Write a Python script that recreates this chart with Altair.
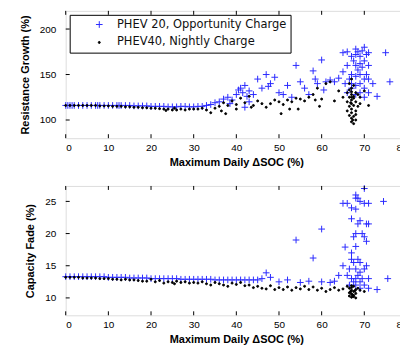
import altair as alt
import pandas as pd

# ---------------- data ----------------
SERIES = ["PHEV 20, Opportunity Charge", "PHEV40, Nightly Charge"]

# Top panel: Resistance growth (%)
rg_blue_x = [0, 0.5, 1, 1.5, 2, 3, 4, 5, 6, 7, 7.5, 8, 9, 10, 11, 12, 12.5, 13, 14, 15, 16, 17, 18, 19, 20,
             21, 22, 23, 24, 25, 26, 27, 28, 29, 30, 31, 32, 33, 34, 35, 36, 37, 38, 38.5, 39, 40, 40.5,
             41, 41.5, 42, 42.5, 43, 43, 42, 44, 45, 46, 47, 47.5, 48, 49, 50, 51, 52, 53, 54, 55, 56, 57,
             58, 58.5, 59, 60, 60.5, 61, 62, 63, 64, 65, 65, 65.5, 66, 66, 66, 66.5, 67, 67, 67, 67, 67.5,
             68, 68, 68, 68, 68, 68, 68.5, 68.5, 69, 69, 69, 69, 69, 69.5, 69.5, 70, 70, 70, 70, 70, 70.5,
             70.5, 71, 71, 71, 71, 72, 73, 75, 76]
rg_blue_y = [116, 116, 116, 116, 116, 116, 116, 116, 116, 116, 116, 116, 116, 116, 116, 116, 116, 116, 116,
             116, 115.5, 115.5, 115.5, 115.5, 115, 115, 115, 115, 114.5, 114.5, 114.5, 115, 115, 114.5, 114.5,
             115, 115, 116, 117, 119, 120, 123, 125, 118, 122, 128, 133, 135, 130, 138, 126, 132, 120, 114,
             128, 145, 135, 150, 137, 140, 147, 130, 128, 138, 125, 160, 142, 135, 128, 154, 145, 140, 166,
             133, 142, 144, 142, 146, 174, 153, 140, 175, 160, 130, 145, 170, 150, 140, 135, 165, 178, 172,
             160, 148, 138, 128, 175, 155, 170, 162, 150, 140, 130, 176, 158, 180, 165, 145, 135, 125, 172,
             150, 174, 160, 145, 130, 140, 126, 174, 142]

rg_black_x = [0, 1, 2, 3, 4, 5, 6, 7, 8, 9, 10, 11, 12, 13, 14, 15, 16, 17, 18, 19, 20, 21, 22, 23, 23.5,
              24, 25, 25.5, 26, 27, 28, 29, 30, 31, 32, 33, 34, 35, 36, 36.5, 37, 37.5, 38, 39, 40, 40, 41,
              42, 43, 43.5, 44, 45, 46, 47, 48, 49, 50, 50.5, 51, 52, 52.5, 53, 54, 54.5, 55, 56, 57, 58,
              58.5, 59, 59.5, 60, 61, 62, 63, 64, 65, 66, 66, 66, 66.5, 66.5, 66.5, 66.5, 67, 67, 67, 67,
              67, 67, 67, 67, 67, 67.5, 67.5, 67.5, 67.5, 67.5, 68, 68, 68, 68, 68.5, 68.5, 69, 69, 70, 71,
              66.5, 67, 67.5, 68, 67, 66.8, 67.3]
rg_black_y = [116, 116, 116, 116, 116, 116, 116, 116, 115.5, 115.5, 115.5, 115, 115, 115, 114.5, 114.5,
              114, 114, 113.5, 113.5, 113, 113, 112.5, 112, 110.5, 112, 111, 113, 111, 112, 111, 112, 112,
              112, 113, 111, 108, 113, 115, 110, 119, 107, 116, 121, 117, 112, 124, 119, 126, 114, 116, 121,
              118, 114, 118, 122, 120, 107, 117, 122, 112, 120, 124, 112, 123, 121, 125, 128, 122, 135, 115,
              123, 140, 142, 121, 132, 125, 130, 120, 110, 140, 125, 115, 105, 145, 135, 128, 122, 118, 112,
              108, 102, 98, 138, 126, 116, 104, 96, 130, 120, 110, 100, 128, 115, 125, 118, 132, 116,
              133, 131, 124, 106, 125, 119, 100]

# Bottom panel: Capacity fade (%)
cf_blue_x = [0, 1, 2, 3, 4, 5, 6, 7, 8, 9, 10, 11, 12, 13, 14, 15, 16, 17, 18, 19, 20, 21, 22, 23, 24, 25,
             26, 27, 28, 29, 30, 31, 32, 33, 34, 35, 36, 37, 38, 39, 40, 41, 42, 43, 44, 45, 46, 47, 48, 50,
             52, 54, 55, 57, 58, 60, 60, 62, 63, 64, 65, 65, 65.5, 66, 66, 66.5, 66.5, 67, 67, 67, 67, 67,
             67.5, 67.5, 67.5, 68, 68, 68, 68, 68, 68, 68, 68, 68.5, 68.5, 68.5, 68.5, 69, 69, 69, 69, 69,
             69, 69.5, 69.5, 70, 70, 70, 70, 70, 70.5, 70.5, 70.5, 71, 71, 71, 71, 73, 74.5, 75.5]
cf_blue_y = [13.3, 13.3, 13.3, 13.3, 13.3, 13.3, 13.3, 13.3, 13.3, 13.3, 13.2, 13.2, 13.2, 13.2, 13.2, 13.1,
             13.1, 13.1, 13.1, 13.1, 13.0, 13.0, 13.0, 13.0, 13.0, 13.0, 13.0, 12.9, 12.9, 12.9, 12.9, 12.9,
             12.9, 12.9, 12.9, 12.8, 12.8, 12.8, 12.8, 12.8, 12.8, 12.8, 12.8, 12.8, 12.8, 12.8, 13.0, 13.9,
             13.2, 12.5, 12.8, 19.0, 12.4, 12.6, 16.2, 20.7, 12.5, 12.4, 12.6, 13.5, 24.7, 15.0, 17.9, 24.7,
             13.5, 14.5, 12.0, 22.3, 24.0, 17.0, 16.0, 13.0, 19.5, 15.5, 12.5, 26.0, 25.5, 23.8, 20.0, 18.0,
             14.5, 13.0, 12.0, 25.5, 21.5, 16.0, 13.5, 25.0, 22.0, 15.5, 14.0, 12.5, 11.5, 20.0, 13.0, 27.0,
             24.7, 19.5, 14.5, 12.0, 18.8, 21.5, 15.0, 24.7, 21.5, 13.0, 11.5, 11.3, 25.0, 13.0]

cf_black_x = [0, 1, 2, 3, 4, 5, 6, 7, 8, 9, 10, 11, 12, 13, 14, 15, 16, 17, 18, 19, 20, 21, 22, 23, 24, 25,
              25.5, 26, 27, 28, 29, 30, 31, 32, 33, 34, 35, 36, 37, 38, 39, 40, 41, 42, 43, 44, 45, 46, 47,
              48, 49, 50, 51, 52, 53, 54, 55, 56, 57, 58, 59, 60, 61, 62, 63, 64, 65, 66, 66.5, 66.5, 66.5,
              67, 67, 67, 67, 67, 67.5, 67.5, 67.5, 67.5, 68, 68, 68, 66.8, 67.2, 67.8, 66.7, 67.3, 68.5, 69,
              70]
cf_black_y = [13.2, 13.2, 13.2, 13.2, 13.1, 13.1, 13.1, 13.1, 13.0, 13.0, 13.0, 12.9, 12.9, 12.8, 12.9,
              12.8, 12.8, 12.7, 12.6, 12.6, 12.9, 12.5, 12.7, 12.3, 12.5, 12.4, 12.2, 12.6, 12.4, 12.5,
              12.3, 12.4, 12.3, 12.5, 12.2, 12.0, 12.4, 12.2, 12.0, 11.8, 12.3, 12.1, 12.4, 11.9, 12.0, 11.6,
              11.8, 11.5, 11.4, 11.9, 11.3, 11.6, 11.3, 11.7, 11.2, 11.6, 11.4, 11.8, 11.3, 11.7, 11.2,
              11.5, 11.0, 11.3, 11.6, 11.2, 11.4, 11.8, 11.5, 10.8, 10.3, 11.9, 11.2, 10.6, 10.1, 11.6, 11.0,
              10.4, 11.8, 10.2, 11.3, 10.7, 10.0, 11.0, 10.5, 11.1, 10.9, 10.3, 11.5, 11.2, 11.0]

X_TICKS = [0, 10, 20, 30, 40, 50, 60, 70, 80]
RG_TICKS = [100, 150, 200]
CF_TICKS = [10, 15, 20, 25]

PLUS = "M-1,0L1,0M0,-1L0,1"
FONT = "DejaVu Sans"
W = 343


def frame(xs_b, ys_b, xs_k, ys_k):
    return pd.DataFrame({
        "x": list(xs_b) + list(xs_k),
        "y": list(ys_b) + list(ys_k),
        "series": [SERIES[0]] * len(xs_b) + [SERIES[1]] * len(xs_k),
    })


def panel(df, ydom, yticks, ytitle, h, show_legend):
    xs = alt.Scale(domain=[0, 80], nice=False, zero=False)
    ys = alt.Scale(domain=ydom, nice=False, zero=False)
    xax = alt.Axis(values=X_TICKS, ticks=False, grid=False, domain=False, labelPadding=4,
                   title="Maximum Daily \u0394SOC (%)", titlePadding=4)
    yax = alt.Axis(values=yticks, ticks=False, grid=False, domain=False, labelPadding=10,
                   title=ytitle, titlePadding=9)
    if show_legend:
        leg = alt.Legend(title=None, orient="none", legendX=4, legendY=4, fillColor="white",
                         strokeColor="black", padding=4, symbolOffset=20, labelOffset=12,
                         rowPadding=5, labelFontSize=11.5, labelFont=FONT, labelColor="#111",
                         symbolStrokeWidth=1, labelLimit=400)
    else:
        leg = None
    sc = alt.Scale(domain=SERIES, range=["#2a2aff", "#000000"])
    pts = alt.Chart(df).mark_point(filled=False, strokeWidth=1, opacity=1).encode(
        x=alt.X("x:Q", scale=xs, axis=xax),
        y=alt.Y("y:Q", scale=ys, axis=yax),
        color=alt.Color("series:N", scale=sc, legend=leg),
        fill=alt.Fill("series:N", scale=alt.Scale(domain=SERIES, range=["transparent", "#000000"]), legend=leg),
        shape=alt.Shape("series:N", scale=alt.Scale(domain=SERIES, range=[PLUS, "circle"]), legend=leg),
        size=alt.Size("series:N", scale=alt.Scale(domain=SERIES, range=[45, 4]), legend=leg),
        order=alt.Order("series:N"),
    )
    xt = pd.DataFrame({"t": X_TICKS})
    yt = pd.DataFrame({"t": yticks})
    tx_bottom = alt.Chart(xt).mark_rule(color="black", strokeWidth=1).encode(
        x=alt.X("t:Q", scale=xs), y=alt.value(h), y2=alt.value(h - 4))
    tx_top = alt.Chart(xt).mark_rule(color="black", strokeWidth=1).encode(
        x=alt.X("t:Q", scale=xs), y=alt.value(0), y2=alt.value(4))
    ty_left = alt.Chart(yt).mark_rule(color="black", strokeWidth=1).encode(
        y=alt.Y("t:Q", scale=ys), x=alt.value(0), x2=alt.value(4))
    ty_right = alt.Chart(yt).mark_rule(color="black", strokeWidth=1).encode(
        y=alt.Y("t:Q", scale=ys), x=alt.value(W), x2=alt.value(W - 4))
    return alt.layer(pts, tx_bottom, tx_top, ty_left, ty_right).properties(width=W, height=h)


top = panel(frame(rg_blue_x, rg_blue_y, rg_black_x, rg_black_y), [80, 220], RG_TICKS,
            "Resistance Growth (%)", 128, True)
bot = panel(frame(cf_blue_x, cf_blue_y, cf_black_x, cf_black_y), [7.3, 27.4], CF_TICKS,
            "Capacity Fade (%)", 130, False)

chart = alt.vconcat(top, bot, spacing=14).resolve_scale(
    color="independent", shape="independent", size="independent", fill="independent"
).properties(
    padding={"top": 1, "left": 10, "right": -8, "bottom": 0}
).configure_view(
    stroke="black", strokeWidth=1
).configure_axis(
    labelFont=FONT, titleFont=FONT, labelFontSize=10, titleFontSize=11,
    labelColor="#222", titleColor="#222", titleFontWeight="normal"
).configure(background="white")

chart.save("out.html", embed_options={"renderer": "svg", "actions": False})
